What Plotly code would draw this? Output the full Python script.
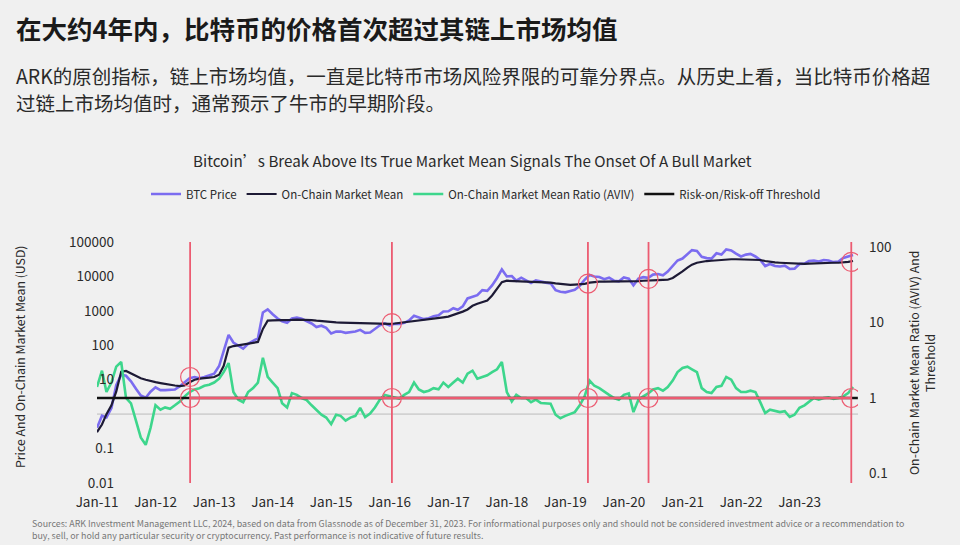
import pandas as pd
import plotly.graph_objects as go

# ---------------- data ----------------
months = pd.date_range("2011-01-01", "2023-12-01", freq="MS")

btc_price = [
    # 2011
    0.4, 0.9, 0.8, 1.5, 7, 14, 13, 9, 5.5, 3.5, 3, 4.5,
    # 2012
    6, 5, 5, 5, 5.2, 6.5, 8.5, 11, 12, 11, 12, 13.5,
    # 2013
    15, 25, 70, 200, 120, 100, 80, 110, 130, 160, 900, 1100,
    # 2014
    800, 600, 500, 450, 600, 640, 590, 500, 430, 340, 370, 320,
    # 2015
    220, 250, 250, 230, 235, 250, 280, 230, 235, 290, 380, 430,
    # 2016
    380, 420, 415, 450, 530, 720, 650, 575, 610, 700, 740, 960,
    # 2017
    970, 1190, 1080, 1350, 2300, 2600, 2850, 4000, 3800, 5500, 9000, 16000,
    # 2018
    10000, 10300, 7500, 9200, 7500, 6400, 7700, 7000, 6600, 6300, 4000, 3600,
    # 2019
    3450, 3800, 4100, 5300, 8000, 11000, 10000, 9600, 8300, 9200, 7500, 7200,
    # 2020
    9300, 8600, 5500, 8600, 9500, 9100, 11300, 11700, 10800, 13800, 19700, 29000,
    # 2021
    33000, 45000, 58000, 55000, 37000, 34000, 33000, 47000, 43000, 61000, 57000, 46000,
    # 2022
    38000, 43000, 45000, 38000, 30000, 20000, 23000, 20000, 19500, 20500, 16500, 16800,
    # 2023
    23000, 23500, 28000, 29000, 27000, 30000, 29000, 26000, 27000, 34500, 37700, 42000,
]

market_mean = [
    # 2011
    0.3, 0.5, 1.0, 1.8, 4.5, 17, 18, 15, 13, 11, 10, 9,
    # 2012
    8.5, 8, 7.5, 7, 6.8, 6.5, 6.8, 8.5, 10, 10.8, 11, 11.5,
    # 2013
    12, 14, 25, 85, 95, 100, 105, 110, 115, 125, 300, 520,
    # 2014
    530, 530, 540, 540, 550, 560, 560, 550, 540, 520, 500, 480,
    # 2015
    470, 460, 455, 450, 445, 440, 435, 430, 425, 420, 418, 418,
    # 2016
    420, 430, 445, 470, 490, 510, 530, 550, 565, 590, 620, 650,
    # 2017
    680, 750, 850, 950, 1100, 1400, 1600, 1750, 2000, 2800, 4500, 6800,
    # 2018
    7500, 7400, 7300, 7200, 7100, 7000, 7000, 6900, 6800, 6600, 6300, 6000,
    # 2019
    5800, 5700, 5800, 5900, 6100, 6600, 7000, 7100, 7100, 7100, 7100, 7000,
    # 2020
    7100, 7300, 7300, 7300, 7500, 7500, 7700, 7800, 7900, 8000, 9000, 11000,
    # 2021
    14000, 18000, 22000, 25000, 27000, 28000, 28500, 29500, 30000, 31000, 31500, 31500,
    # 2022
    31500, 31500, 31000, 31000, 30000, 28000, 26500, 25500, 25000, 24500, 24000, 23500,
    # 2023
    23000, 23000, 23500, 24000, 24000, 24500, 25000, 25000, 25000, 25500, 26500, 28000,
]

aviv = [
    # 2011
    1.4, 2.3, 1.2, 1.6, 2.6, 3.0, 1.0, 0.85, 0.5, 0.3, 0.24, 0.4,
    # 2012
    0.8, 0.7, 0.75, 0.72, 0.8, 0.9, 1.05, 1.2, 1.3, 1.35, 1.45, 1.5,
    # 2013
    1.6, 1.8, 2.2, 2.9, 1.2, 0.95, 0.88, 1.2, 1.35, 1.6, 3.4, 1.9,
    # 2014
    1.6, 1.35, 0.85, 0.75, 1.16, 1.1, 1.0, 0.94, 0.8, 0.69, 0.6, 0.55,
    # 2015
    0.45, 0.6, 0.58, 0.5, 0.55, 0.58, 0.74, 0.56, 0.62, 0.75, 0.95, 1.1,
    # 2016
    1.05, 1.0, 0.98, 1.1, 1.2, 1.6, 1.3, 1.2, 1.25, 1.35, 1.3, 1.6,
    # 2017
    1.4, 1.6, 1.8, 1.6, 2.1, 2.3, 1.8, 1.9, 2.0, 2.2, 2.4, 3.0,
    # 2018
    1.2, 0.9, 1.1, 1.0, 1.0, 0.88, 0.95, 0.86, 0.85, 0.84, 0.6, 0.54,
    # 2019
    0.58, 0.62, 0.65, 0.8, 1.05, 1.7, 1.45, 1.35, 1.2, 1.1, 1.0, 0.95,
    # 2020
    1.1, 1.15, 0.65, 0.95, 1.05, 1.15, 1.3, 1.35, 1.25, 1.4, 1.7, 2.2,
    # 2021
    2.5, 2.6, 2.4, 2.2, 1.35, 1.2, 1.16, 1.4, 1.45, 1.9, 1.75, 1.35,
    # 2022
    1.2, 1.2, 1.25, 1.2, 0.88, 0.63, 0.7, 0.68, 0.65, 0.67, 0.56, 0.6,
    # 2023
    0.74, 0.8, 0.9, 1.0, 0.95, 1.0, 1.02, 0.97, 1.0, 1.05, 1.16, 1.4,
]

threshold_dates = ["2011-01-01", "2023-12-31"]
threshold_values = [1, 1]

event_dates = ["2012-08-04", "2016-01-15", "2019-05-22", "2020-06-03", "2023-11-20"]
event_price = [12, 440, 6200, 8500, 26500]
event_aviv = [1, 1, 1, 1, 1]

year_ticks = [f"{y}-01-01" for y in range(2011, 2024)]
year_labels = [f"Jan-{y % 100:02d}" for y in range(2011, 2024)]
axis_ticks = [f"{y}-01-01" for y in range(2011, 2025)]
baseline_value = 1  # grey axis line drawn at 1 on the left (USD) axis

left_tickvals = [0.01, 0.1, 10, 100, 1000, 10000, 100000]
left_ticktext = ["0.01", "0.1", "10", "100", "1000", "10000", "100000"]
right_tickvals = [0.1, 1, 10, 100]
right_ticktext = ["0.1", "1", "10", "100"]

X_RANGE = ["2011-01-01", "2024-01-01"]
LEFT_RANGE = [-2, 5]
RIGHT_RANGE = [-1.126, 2.066]

# ---------------- styling ----------------
FONT = "Noto Sans CJK SC"
BG = "#f0f0f0"
PURPLE = "#7b6cf0"
NAVY = "#1d1a35"
GREEN = "#3dd68c"
BLACK = "#111111"
PINK = "#ec5b71"
TXT = "#2a2a2a"
AXIS_GREY = "#d2d2d2"

fig = go.Figure()

fig.add_trace(go.Scatter(x=months, y=aviv, name="On-Chain Market Mean Ratio (AVIV)",
                         yaxis="y2", mode="lines", line=dict(color=GREEN, width=2.6),
                         legendrank=3))
fig.add_trace(go.Scatter(x=threshold_dates, y=threshold_values, name="Risk-on/Risk-off Threshold",
                         yaxis="y2", mode="lines", line=dict(color=BLACK, width=2.4),
                         legendrank=4))
fig.add_trace(go.Scatter(x=months, y=btc_price, name="BTC Price", mode="lines",
                         line=dict(color=PURPLE, width=2.6), legendrank=1))
fig.add_trace(go.Scatter(x=months, y=market_mean, name="On-Chain Market Mean", mode="lines",
                         line=dict(color=NAVY, width=2.2), legendrank=2))

# markers at the events
fig.add_trace(go.Scatter(x=event_dates, y=event_price, mode="markers", showlegend=False,
                         marker=dict(symbol="circle-open", size=19, color=PINK,
                                     line=dict(width=1.2, color=PINK)), hoverinfo="skip"))
fig.add_trace(go.Scatter(x=event_dates, y=event_aviv, yaxis="y2", mode="markers", showlegend=False,
                         marker=dict(symbol="circle-open", size=19, color=PINK,
                                     line=dict(width=1.2, color=PINK)), hoverinfo="skip"))

shapes = []
# grey axis line at value 1 of the left axis, with yearly tick marks
shapes.append(dict(type="line", xref="paper", x0=0, x1=1, yref="y",
                   y0=baseline_value, y1=baseline_value,
                   line=dict(color=AXIS_GREY, width=1.6), layer="below"))
for d in axis_ticks:
    shapes.append(dict(type="line", xref="x", x0=d, x1=d, yref="y", ysizemode="pixel",
                       yanchor=baseline_value, y0=0, y1=-5,
                       line=dict(color=AXIS_GREY, width=1.2), layer="below"))
for d in event_dates:
    shapes.append(dict(type="line", xref="x", yref="paper", x0=d, x1=d, y0=0, y1=1,
                       line=dict(color=PINK, width=1.8), layer="above"))
shapes.append(dict(type="line", xref="x", yref="y2", x0=event_dates[0], x1=event_dates[-1],
                   y0=1, y1=1, line=dict(color=PINK, width=2.4), layer="above"))

W, H = 960, 545
ML, MR, MT, MB = 97, 102, 242, 62
PW, PH = W - ML - MR, H - MT - MB


def px(xp):
    return (xp - ML) / PW


def py(yp):
    return (H - MB - yp) / PH


annotations = [
    dict(text="<b>在大约4年内，比特币的价格首次超过其链上市场均值</b>", x=px(14), y=py(27),
         xanchor="left", yanchor="middle", font=dict(size=25.5, color="#1a1a1a")),
    dict(text="ARK的原创指标，链上市场均值，一直是比特币市场风险界限的可靠分界点。从历史上看，当比特币价格超",
         x=px(14), y=py(75), xanchor="left", yanchor="middle", font=dict(size=19.5, color=TXT)),
    dict(text="过链上市场均值时，通常预示了牛市的早期阶段。",
         x=px(14), y=py(102), xanchor="left", yanchor="middle", font=dict(size=19.5, color=TXT)),
    dict(text="Bitcoin’s Break Above Its True Market Mean Signals The Onset Of A Bull Market",
         x=px(472), y=py(160), xanchor="center", yanchor="middle", font=dict(size=15.2, color=TXT)),
    dict(text="Price And On-Chain Market Mean (USD)", textangle=-90, x=px(20), y=py(357),
         xanchor="center", yanchor="middle", font=dict(size=12.3, color=TXT)),
    dict(text="On-Chain Market Mean Ratio (AVIV) And<br>Threshold", textangle=-90, x=px(922), y=py(363),
         xanchor="center", yanchor="middle", font=dict(size=12.3, color=TXT)),
    dict(text="Sources: ARK Investment Management LLC, 2024, based on data from Glassnode as of December 31, 2023. "
              "For informational purposes only and should not be considered investment advice or a recommendation to"
              "<br>buy, sell, or hold any particular security or cryptocurrency. Past performance is not indicative of future results.",
         x=px(30), y=py(529), xanchor="left", yanchor="middle", align="left",
         font=dict(size=8.9, color="#777777")),
]
for a in annotations:
    a.update(xref="paper", yref="paper", showarrow=False)

fig.update_layout(
    width=W, height=H,
    margin=dict(l=ML, r=MR, t=MT, b=MB, pad=0),
    paper_bgcolor=BG, plot_bgcolor=BG,
    font=dict(family=FONT, color=TXT),
    showlegend=True,
    legend=dict(orientation="h", x=px(146), y=py(194), xanchor="left", yanchor="middle",
                font=dict(size=11.5, color=TXT), bgcolor="rgba(0,0,0,0)", itemwidth=30,
                traceorder="normal"),
    xaxis=dict(type="date", range=X_RANGE, tickvals=year_ticks,
               ticktext=year_labels, showgrid=False, showline=False, zeroline=False, ticks="",
               ticklabelstandoff=9, tickfont=dict(size=13.5, color=TXT)),
    yaxis=dict(type="log", range=LEFT_RANGE, tickvals=left_tickvals, ticktext=left_ticktext,
               showgrid=False, zeroline=False, showline=False, ticks="", anchor="free",
               position=px(114), tickfont=dict(size=13.5, color=TXT)),
    yaxis2=dict(type="log", range=RIGHT_RANGE, tickvals=right_tickvals, ticktext=right_ticktext,
                overlaying="y", side="right", showgrid=False, zeroline=False, showline=False,
                ticks="", ticklabelstandoff=10, tickfont=dict(size=13.5, color=TXT)),
    shapes=shapes,
    annotations=annotations,
)

fig.write_html("out.html")
